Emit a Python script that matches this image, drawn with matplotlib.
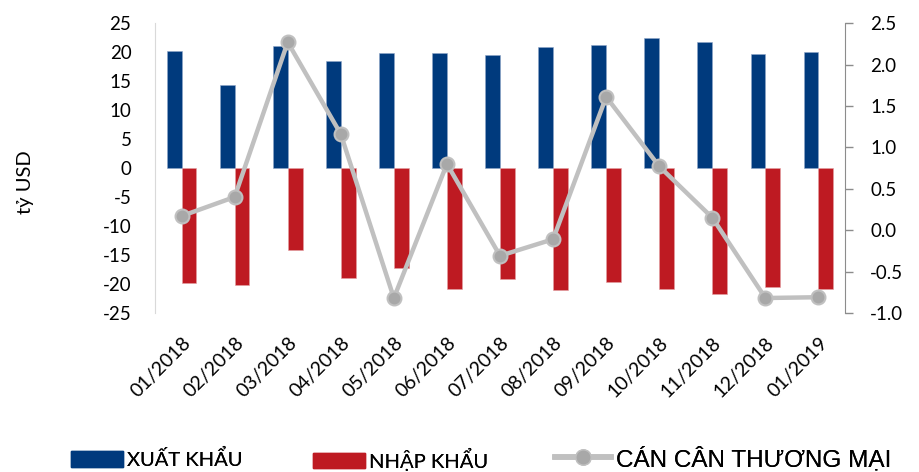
import matplotlib
matplotlib.use("Agg")
import matplotlib.pyplot as plt
from matplotlib import font_manager
from matplotlib.lines import Line2D
from matplotlib.patches import Patch
from matplotlib.transforms import ScaledTranslation
import numpy as np

months = ["01/2018", "02/2018", "03/2018", "04/2018", "05/2018", "06/2018", "07/2018",
          "08/2018", "09/2018", "10/2018", "11/2018", "12/2018", "01/2019"]
exports = [20.2, 14.4, 21.1, 18.4, 19.9, 19.8, 19.5, 20.9, 21.2, 22.5, 21.8, 19.7, 20.0]
imports = [-19.9, -20.2, -14.1, -19.0, -17.3, -20.9, -19.1, -21.1, -19.7, -20.8, -21.8, -20.5, -20.9]
balance = [0.17, 0.40, 2.27, 1.16, -0.82, 0.80, -0.31, -0.11, 1.61, 0.77, 0.15, -0.82, -0.81]

left_ticks = [25, 20, 15, 10, 5, 0, -5, -10, -15, -20, -25]
right_ticks = [2.5, 2.0, 1.5, 1.0, 0.5, 0.0, -0.5, -1.0]
legend_labels = ["XUẤT KHẨU", "NHẬP KHẨU", "CÁN CÂN THƯƠNG MẠI"]

installed = {f.name for f in font_manager.fontManager.ttflist}
def pick(*names):
    for n in names:
        if n in installed:
            return n
    return "DejaVu Sans"

body_font = pick("Lato", "Open Sans", "Liberation Sans")
arial_font = pick("Liberation Sans", "DejaVu Sans")

BLUE = "#003A7D"
RED = "#BE1A22"
GREY_LINE = "#C0C0C0"
GREY_MARK = "#A8A8A8"

fig = plt.figure(figsize=(9.2, 4.72), dpi=100)
ax = fig.add_axes([0.1685, 0.337, 0.75, 0.614])
ax2 = ax.twinx()

x = np.arange(len(months))
w = 0.28
ax.bar(x - w / 2, exports, width=w, color=BLUE, edgecolor="#8FA6C8", linewidth=0.4, zorder=2)
ax.bar(x + w / 2, imports, width=w, color=RED, edgecolor="#E3A0A3", linewidth=0.4, zorder=2)

ax2.plot(x, balance, color=GREY_LINE, lw=3.2, marker="o", ms=10,
         markerfacecolor=GREY_MARK, markeredgecolor=GREY_LINE, markeredgewidth=1.5, zorder=3)

ax.set_xlim(-0.5, len(months) - 0.5)
ax.set_ylim(-25, 25)
ax2.set_ylim(-1.0, 2.5)
ax.set_yticks(left_ticks)
ax.set_yticklabels([str(t) for t in left_ticks], fontsize=13.5, fontfamily=body_font)
ax2.set_yticks(right_ticks)
ax2.set_yticklabels([f"{t:.1f}" for t in right_ticks], fontsize=13.5, fontfamily=body_font)

ax.set_xticks(x)
ax.set_xticklabels(months, rotation=45, ha="right", rotation_mode="anchor",
                   fontsize=14, fontfamily=body_font)
shift = ScaledTranslation(5 / 100, 0, fig.dpi_scale_trans)
for lbl in ax.get_xticklabels():
    lbl.set_transform(lbl.get_transform() + shift)
ax.tick_params(axis="x", length=0, pad=15)
ax.tick_params(axis="y", length=0, pad=17)
ax2.tick_params(axis="y", length=6, width=1, color="#8C8C8C", direction="out", pad=12)

for s in ["top", "bottom", "right"]:
    ax.spines[s].set_visible(False)
ax.spines["left"].set_color("#D9D9D9")
for s in ["top", "bottom", "left"]:
    ax2.spines[s].set_visible(False)
ax2.spines["right"].set_color("#8C8C8C")

ax.set_zorder(ax2.get_zorder() - 1)
ax.patch.set_visible(False)

fig.text(0.028, 0.614, "tỷ USD", rotation=90, fontsize=14.5, fontfamily=body_font,
         ha="center", va="center")

# legend entries laid out along the bottom edge
entries = [
    (Patch(facecolor=BLUE, edgecolor=BLUE), legend_labels[0], 71, body_font, 14.5, 2.6),
    (Patch(facecolor=RED, edgecolor=RED), legend_labels[1], 313, body_font, 14.5, 2.6),
    (Line2D([0], [0], color=GREY_LINE, lw=4, marker="o", ms=11,
            markerfacecolor=GREY_MARK, markeredgecolor=GREY_LINE),
     legend_labels[2], 555, arial_font, 17.5, 2.3),
]
for handle, label, x0, fam, size, hlen in entries:
    leg = fig.legend([handle], [label], loc="center left",
                     bbox_to_anchor=(x0 / 920, 1 - 459 / 472),
                     frameon=False, prop={"family": fam, "size": size},
                     handlelength=hlen, handleheight=0.8, handletextpad=0.2,
                     borderpad=0, borderaxespad=0)
    fig.add_artist(leg)

fig.savefig("out.png", dpi=100)
